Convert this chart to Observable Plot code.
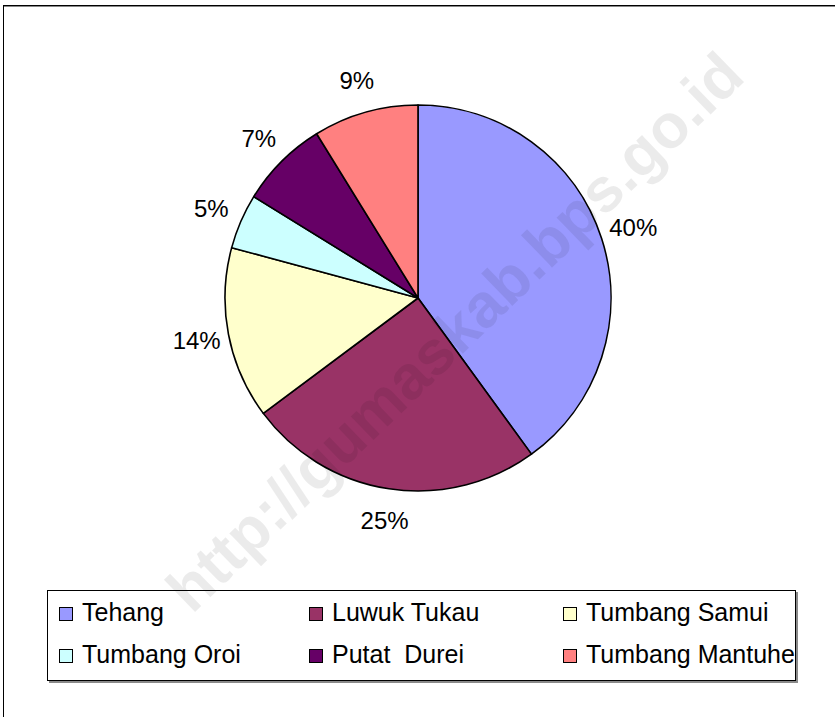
<!DOCTYPE html>
<html>
<head>
<meta charset="utf-8">
<script src="https://cdn.jsdelivr.net/npm/d3@7"></script>
<script src="https://cdn.jsdelivr.net/npm/@observablehq/plot@0.6"></script>
<style>
  html, body { margin: 0; padding: 0; background: #fff; overflow: hidden; }
  body { width: 835px; height: 717px; position: relative; font-family: "Liberation Sans", Arial, sans-serif; }
  #frame { position: absolute; left: 3px; top: 5px; width: 900px; height: 800px;
           border-left: 1px solid #000; border-top: 1px solid #000; box-shadow: inset 0 1px 0 #888; }
  #chart { position: absolute; left: 0; top: 0; }
  #legend { position: absolute; left: 47px; top: 590px; width: 747px; height: 89px;
            border: 1px solid #000; background: #fff; box-shadow: 2px 2px 0 #8a8a8a; }
  .item { position: absolute; font-size: 25px; line-height: 25px; color: #000; white-space: pre; }
  .sw { position: absolute; width: 12px; height: 12px; border: 1.5px solid #000; }
  #wm { position: absolute; left: 455px; top: 332px; transform: translate(-50%, -50%) rotate(-44deg);
        font: bold 62px "Liberation Sans", Arial, sans-serif; color: rgba(0,0,0,0.08);
        white-space: nowrap; pointer-events: none; line-height: 1; }
</style>
</head>
<body>
<div id="frame"></div>
<div id="chart"></div>
<div id="legend"></div>
<div id="wm">http://gumaskab.bps.go.id</div>
<script>
// Data
const categories = ["Tehang", "Luwuk Tukau", "Tumbang Samui", "Tumbang Oroi", "Putat  Durei", "Tumbang Mantuhe"];
const values = [40.0, 24.8, 14.4, 4.6, 7.4, 8.8];
const pctLabels = ["40%", "25%", "14%", "5%", "7%", "9%"];
const colors = ["#9999FF", "#993366", "#FFFFCC", "#CCFFFF", "#660066", "#FF8080"];

const data = categories.map((c, i) => ({category: c, value: values[i], label: pctLabels[i], color: colors[i]}));
const arcs = d3.pie().sort(null).value(d => d.value)(data);
const labelR = 1.17;
const labelData = arcs.map(a => {
  const mid = (a.startAngle + a.endAngle) / 2;
  return {label: a.data.label, x: labelR * Math.sin(mid), y: labelR * Math.cos(mid)};
});

function pieMark(index, scales, values, dimensions) {
  const cx = scales.x(0), cy = scales.y(0);
  const r = scales.x(1) - scales.x(0);
  const arcGen = d3.arc().innerRadius(0).outerRadius(r);
  const g = d3.create("svg:g").attr("transform", `translate(${cx},${cy})`);
  g.selectAll("path").data(arcs).join("path")
    .attr("d", arcGen)
    .attr("fill", d => d.data.color)
    .attr("stroke", "#000")
    .attr("stroke-width", 1.6)
    .attr("stroke-linejoin", "round");
  return g.node();
}

const plot = Plot.plot({
  width: 835,
  height: 580,
  marginLeft: 225,
  marginRight: 224,
  marginTop: 105,
  marginBottom: 89,
  x: {domain: [-1, 1], axis: null},
  y: {domain: [-1, 1], axis: null},
  style: {background: "transparent", fontFamily: "'Liberation Sans', Arial, sans-serif", overflow: "visible"},
  marks: [
    pieMark,
    Plot.text(labelData, {x: "x", y: "y", text: "label", fontSize: 24, fill: "#000"})
  ]
});
document.getElementById("chart").appendChild(plot);

// Legend
const legend = document.getElementById("legend");
const colX = [11, 261, 515];
const rowTop = [9, 51];
data.forEach((d, i) => {
  const col = i % 3, row = Math.floor(i / 3);
  const sw = document.createElement("div");
  sw.className = "sw";
  sw.style.background = d.color;
  sw.style.left = colX[col] + "px";
  sw.style.top = (rowTop[row] + 7) + "px";
  legend.appendChild(sw);
  const t = document.createElement("div");
  t.className = "item";
  t.style.left = (colX[col] + 23) + "px";
  t.style.top = rowTop[row] + "px";
  t.textContent = d.category;
  legend.appendChild(t);
});
</script>
</body>
</html>
